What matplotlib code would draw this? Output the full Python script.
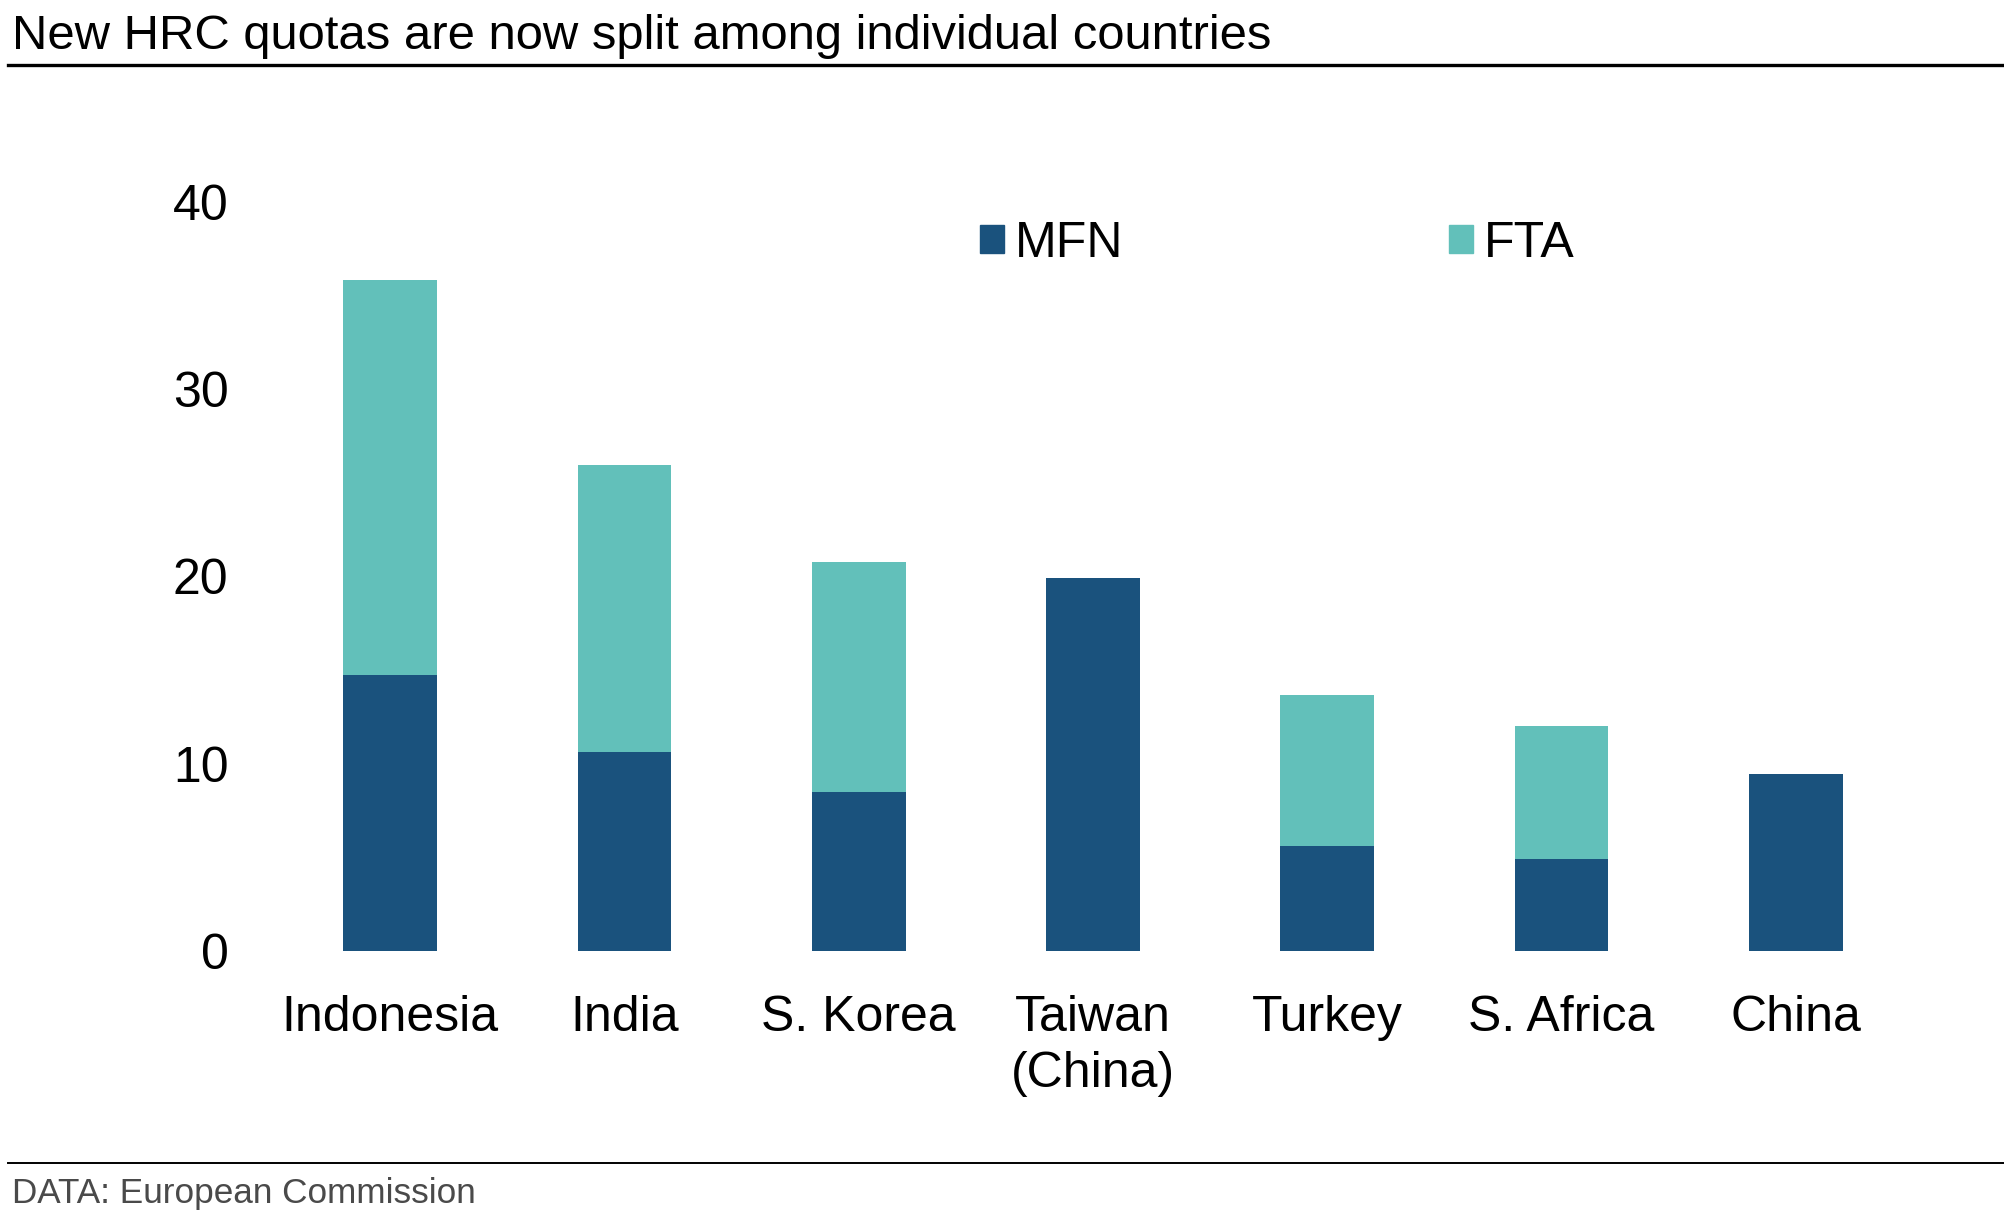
import matplotlib
matplotlib.use("Agg")
import matplotlib.pyplot as plt
from matplotlib.patches import Patch
from matplotlib.lines import Line2D

plt.rcParams["font.family"] = ["Liberation Sans", "DejaVu Sans"]

countries = ["Indonesia", "India", "S. Korea", "Taiwan\n(China)", "Turkey", "S. Africa", "China"]
mfn = [14.75, 10.65, 8.5, 19.9, 5.65, 4.95, 9.45]
fta = [21.05, 15.3, 12.25, 0.0, 8.05, 7.1, 0.0]
y_ticks = [0, 10, 20, 30, 40]

MFN_COLOR = "#1A527D"
FTA_COLOR = "#62C0BA"

fig = plt.figure(figsize=(20.04, 12.11), dpi=100)
ax = fig.add_axes([0.1362, 0.2143, 0.8184, 0.6193])

x = range(len(countries))
ax.bar(x, mfn, width=0.4, color=MFN_COLOR, label="MFN")
ax.bar(x, fta, width=0.4, bottom=mfn, color=FTA_COLOR, label="FTA")

ax.set_xlim(-0.5, len(countries) - 0.5)
ax.set_ylim(0, 40)
ax.set_yticks(y_ticks)
ax.set_xticks(list(x))
ax.set_xticklabels(countries, linespacing=1.28)
ax.tick_params(axis="y", length=0, pad=32, labelsize=36)
ax.tick_params(axis="x", length=0, pad=31, labelsize=36)
for s in ax.spines.values():
    s.set_visible(False)

handles = [Patch(color=MFN_COLOR, label="MFN"), Patch(color=FTA_COLOR, label="FTA")]
ax.legend(handles=handles, ncol=2, frameon=False, fontsize=36,
          loc="center left", bbox_to_anchor=(980 / 2004, 1 - 244 / 1211),
          bbox_transform=fig.transFigure, borderpad=0, borderaxespad=0,
          handlelength=0.48, handleheight=0.48, handletextpad=0.22,
          columnspacing=6.5)

fig.text(0.006, 1 - 49 / 1211, "New HRC quotas are now split among individual countries",
         fontsize=35.3, color="black", ha="left", va="baseline")
fig.add_artist(Line2D([0.004, 1.0], [1 - 65 / 1211] * 2, transform=fig.transFigure,
                      color="black", lw=2.4))
fig.add_artist(Line2D([0.004, 1.0], [1 - 1163 / 1211] * 2, transform=fig.transFigure,
                      color="black", lw=1.4))
fig.text(0.006, 1 - 1203 / 1211, "DATA: European Commission",
         fontsize=25.3, color="#4a4a4a", ha="left", va="baseline")

fig.savefig("out.png", dpi=100)
